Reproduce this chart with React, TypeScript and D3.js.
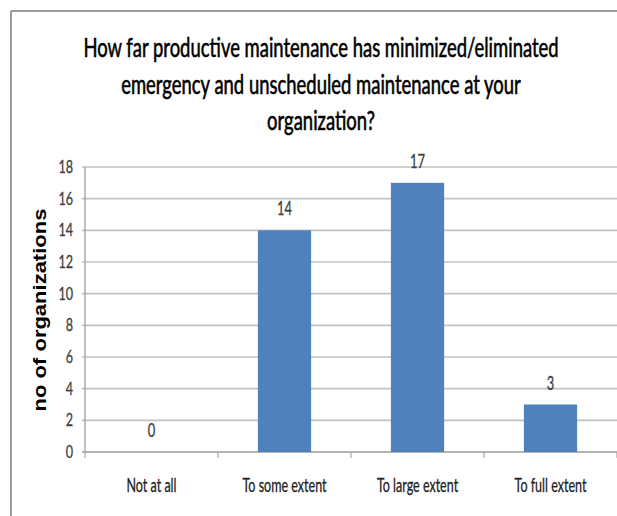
import React from "react";
import * as d3 from "d3";

const categories: string[] = ["Not at all", "To some extent", "To large extent", "To full extent"];
const values: number[] = [0, 14, 17, 3];
const yTicks: number[] = [0, 2, 4, 6, 8, 10, 12, 14, 16, 18];
const titleLines: string[] = [
  "How far productive maintenance has minimized/eliminated",
  "emergency and unscheduled maintenance at your",
  "organization?",
];
const yAxisTitle = "no of organizations";

const W = 617;
const H = 516;
const FONT = "Lato, Carlito, Calibri, 'Open Sans', sans-serif";

export default function App() {
  const left = 85;
  const right = 617;
  const top = 167;
  const bottom = 452;

  const y = d3.scaleLinear().domain([0, 18]).range([bottom, top]);
  const slot = d3.scaleBand<string>().domain(categories).range([left, right]).padding(0);
  const x = d3
    .scaleBand<string>()
    .domain(categories)
    .range([left, right])
    .paddingInner(0.6)
    .paddingOuter(0.3);

  const boundaries = categories.map((c) => (slot(c) as number) + slot.bandwidth());

  const sqText = (
    key: string | number,
    tx: number,
    ty: number,
    text: string,
    size: number,
    sq: number,
    anchor: "start" | "middle" | "end",
    fill: string,
    extra: any = {}
  ) => (
    <text
      key={key}
      transform={`translate(${tx},${ty}) scale(${sq},1)`}
      textAnchor={anchor}
      fontSize={size}
      fontFamily={FONT}
      fill={fill}
      {...extra}
    >
      {text}
    </text>
  );

  return (
    <svg
      width={W}
      height={H}
      style={{ position: "absolute", left: 0, top: 0, display: "block", background: "#fff" }}
    >
      <rect x={0} y={0} width={W} height={H} fill="#fff" />
      {/* frame */}
      <line x1={11} y1={11} x2={W} y2={11} stroke="#9c9c9c" strokeWidth={2} />
      <line x1={11} y1={11} x2={11} y2={H} stroke="#9c9c9c" strokeWidth={2} />

      {/* title */}
      {titleLines.map((t, i) =>
        sqText("t" + i, 321, 57 + i * 36.5, t, 26, 0.71, "middle", "#000", {
          stroke: "#000",
          strokeWidth: 0.6,
        })
      )}

      {/* gridlines */}
      {yTicks.map((v) => (
        <line
          key={"g" + v}
          x1={left - 3}
          x2={right}
          y1={y(v)}
          y2={y(v)}
          stroke={v === 0 ? "#9a9a9a" : "#c2c2c2"}
          strokeWidth={1.7}
        />
      ))}
      {/* y axis */}
      <line x1={left} x2={left} y1={top} y2={bottom} stroke="#a6a6a6" strokeWidth={1.4} />
      {/* y tick labels */}
      {yTicks.map((v) =>
        sqText("yl" + v, 73, y(v) + 6, String(v), 17, 0.74, "end", "#404040", {
          stroke: "#404040",
          strokeWidth: 0.3,
        })
      )}

      {/* category ticks */}
      {[left, ...boundaries].map((bx, i) => (
        <line key={"ct" + i} x1={bx} x2={bx} y1={bottom} y2={bottom + 6} stroke="#a6a6a6" strokeWidth={1.2} />
      ))}

      {/* bars */}
      {categories.map((c, i) => (
        <rect
          key={"b" + c}
          x={x(c) as number}
          y={y(values[i])}
          width={x.bandwidth()}
          height={bottom - y(values[i])}
          fill="#4f81bd"
        />
      ))}

      {/* data labels */}
      {categories.map((c, i) =>
        sqText(
          "dl" + c,
          (x(c) as number) + x.bandwidth() / 2,
          y(values[i]) - 15,
          String(values[i]),
          19,
          0.68,
          "middle",
          "#404040",
          { stroke: "#404040", strokeWidth: 0.3 }
        )
      )}

      {/* category labels */}
      {categories.map((c) =>
        sqText("cl" + c, (x(c) as number) + x.bandwidth() / 2, 492, c, 19, 0.66, "middle", "#222", {
          stroke: "#222",
          strokeWidth: 0.3,
        })
      )}

      {/* y axis title */}
      <text
        transform={`translate(46,310) scale(0.85,1) rotate(-90)`}
        textAnchor="middle"
        fontSize={22}
        fontWeight="bold"
        fontFamily="'Liberation Sans', Arial, sans-serif"
        fill="#000"
      >
        {yAxisTitle}
      </text>
    </svg>
  );
}
